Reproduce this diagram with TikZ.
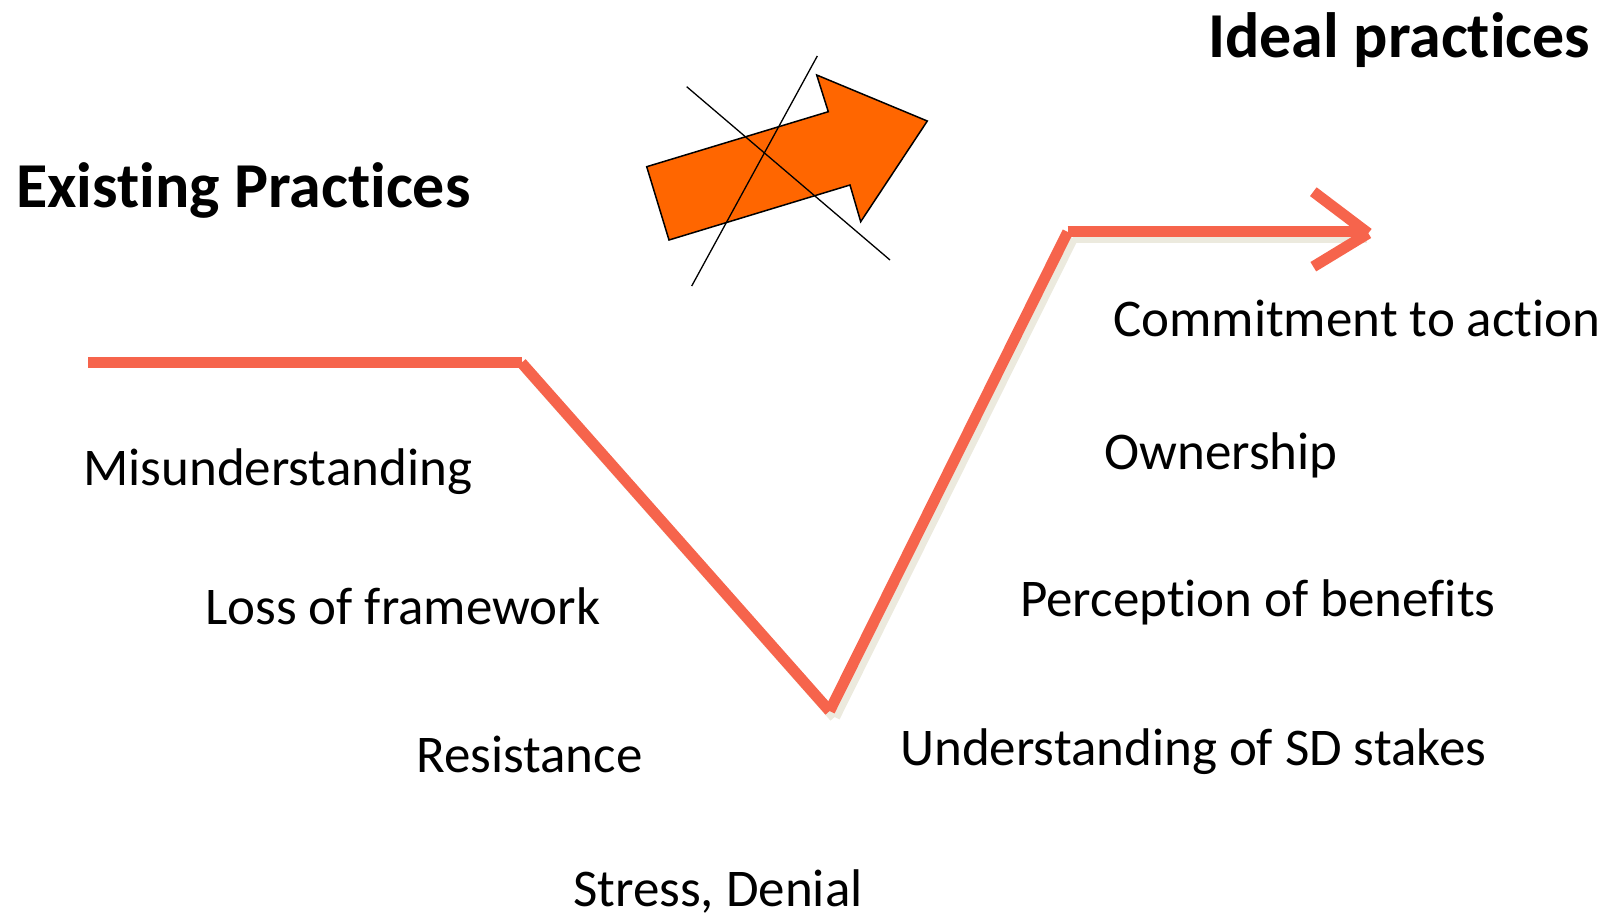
\documentclass[tikz,border=0pt]{standalone}
\usepackage{fontspec}
\setmainfont{Carlito}[Ligatures={NoCommon,NoContextual},RawFeature={-liga;-clig;-calt;-dlig}]
\definecolor{curve}{RGB}{246,100,76}
\definecolor{curveshadow}{RGB}{236,234,222}
\definecolor{blockarrow}{RGB}{255,102,0}
\tikzset{
  lbl/.style={anchor=base west, inner sep=0pt, font=\fontsize{53}{60}\selectfont},
  head/.style={anchor=base west, inner sep=0pt, font=\fontsize{64}{72}\selectfont\bfseries},
  seg/.style={line width=11pt, draw=curve},
  segshadow/.style={line width=11pt, draw=curveshadow}
}
\begin{document}
\begin{tikzpicture}[x=1pt,y=-1pt]
\useasboundingbox (0,0) rectangle (1616,919);
% headings
\node[head] (exist) at (16,207){Existing Practices};
\node[head] (ideal) at (1208,57){Ideal practices};
% crossed-out block arrow
\filldraw[fill=blockarrow, draw=black, line width=1.5pt] (646.7,166.7) -- (828.3,111.7) -- (816.7,75) -- (927.3,121) -- (860.7,221.7) -- (850,185) -- (669,240) -- cycle;
\coordinate (x0) at (686.7,86.7);
\coordinate (x1) at (890,260);
\coordinate (x2) at (817.3,56);
\coordinate (x3) at (691.7,286);
\draw[line width=1.3pt](x0) -- (x1);
\draw[line width=1.3pt](x2) -- (x3);
% change curve
\coordinate (c0) at (88,362.8);
\coordinate (c1) at (521.5,362.8);
\coordinate (c2) at (829.6,711);
\coordinate (c3) at (1067.7,231.9);
\coordinate (c4) at (1362,231.9);
\coordinate (tip) at (1368.3,233.3);
\coordinate (hu) at (1313.3,191.7);
\coordinate (hd) at (1313.3,266.7);
\draw[segshadow] ([shift={(5,6)}]c1) -- ([shift={(5,6)}]c2);
\draw[segshadow] ([shift={(5,6)}]c2) -- ([shift={(5,6)}]c3);
\draw[segshadow] ([shift={(5,6)}]c3) -- ([shift={(5,6)}]c4);
\draw[seg](c0) -- (c1);
\draw[seg](c1) -- (c2);
\draw[seg](c2) -- (c3);
\draw[seg](c3) -- (c4);
\draw[seg](hu) -- (tip);
\draw[seg](tip) -- (hd);
% stages going down
\node[lbl] (misund) at (83,485){Misunderstanding};
\node[lbl] (loss) at (205,624){Loss of framework};
\node[lbl] (resist) at (416,772){Resistance};
\node[lbl] (stress) at (573,906){Stress, Denial};
% stages going up
\node[lbl] (underst) at (900,765){Understanding of SD stakes};
\node[lbl] (percep) at (1020,616){Perception of benefits};
\node[lbl] (owner) at (1104,469){Ownership};
\node[lbl] (commit) at (1113,336){Commitment to action};
\end{tikzpicture}
\end{document}
